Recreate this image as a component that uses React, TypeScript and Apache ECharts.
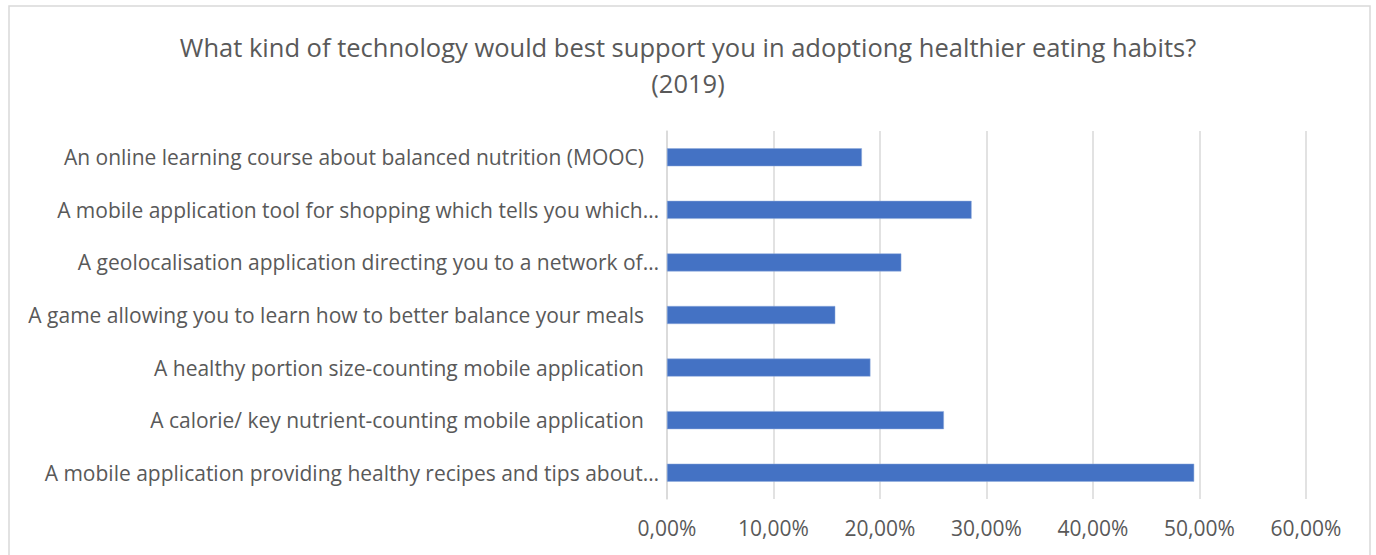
import React, { useEffect, useRef } from "react";
import * as echarts from "echarts";

const titleLine1 = "What kind of technology would best support you in adoptiong healthier eating habits?";
const titleLine2 = "(2019)";

const categories = [
  "An online learning course about balanced nutrition (MOOC)",
  "A mobile application tool for shopping which tells you which…",
  "A geolocalisation application directing you to a network of…",
  "A game allowing you to learn how to better balance your meals",
  "A healthy portion size-counting mobile application",
  "A calorie/ key nutrient-counting mobile application",
  "A mobile application providing healthy recipes and tips about…",
];

const values = [18.3, 28.6, 22.0, 15.8, 19.1, 26.0, 49.5];

const FONT = "'Open Sans', 'Noto Sans', sans-serif";

export default function App() {
  const ref = useRef<HTMLDivElement>(null);
  useEffect(() => {
    if (!ref.current) return;
    const chart = echarts.init(ref.current, null, { renderer: "svg" });
    chart.setOption({
      animation: false,
      backgroundColor: "#ffffff",
      textStyle: { fontFamily: FONT },
      title: {
        text: titleLine1 + "\n" + titleLine2,
        left: "center",
        top: 24,
        textStyle: {
          fontFamily: FONT,
          fontSize: 25.5,
          fontWeight: "normal",
          color: "#595959",
          lineHeight: 36,
        },
      },
      graphic: [
        {
          type: "rect",
          shape: { x: 9, y: 6, width: 1361, height: 570 },
          style: { fill: "none", stroke: "#d9d9d9", lineWidth: 1.5 },
          silent: true,
        },
      ],
      grid: { left: 667, right: 70, top: 131, bottom: 56, containLabel: false },
      xAxis: {
        type: "value",
        min: 0,
        max: 60,
        interval: 10,
        axisLine: { show: false },
        axisTick: { show: false },
        splitLine: { show: true, lineStyle: { color: "#d9d9d9", width: 1.5 } },
        axisLabel: {
          margin: 18,
          fontSize: 21,
          color: "#595959",
          fontFamily: FONT,
          formatter: (v: number) => v.toFixed(2).replace(".", ",") + "%",
        },
      },
      yAxis: {
        type: "category",
        inverse: true,
        data: categories,
        axisLine: { show: true, lineStyle: { color: "#d9d9d9", width: 1.5 } },
        axisTick: { show: false },
        axisLabel: {
          margin: 8,
          fontSize: 21,
          color: "#595959",
          fontFamily: FONT,
          formatter: (v: string) =>
            v.endsWith("…") ? "{t|" + v + "}" : "{p|" + v + "}",
          rich: {
            t: { fontSize: 21, color: "#595959", fontFamily: FONT },
            p: { fontSize: 21, color: "#595959", fontFamily: FONT, padding: [0, 15, 0, 0] },
          },
        },
      },
      series: [
        {
          type: "bar",
          data: values,
          barWidth: 18,
          itemStyle: { color: "#4472C4", borderColor: "#8FAADC", borderWidth: 0.5 },
        },
      ],
    });
    return () => chart.dispose();
  }, []);
  return (
    <div
      ref={ref}
      style={{ position: "absolute", left: 0, top: 0, width: 1376, height: 555 }}
    />
  );
}
